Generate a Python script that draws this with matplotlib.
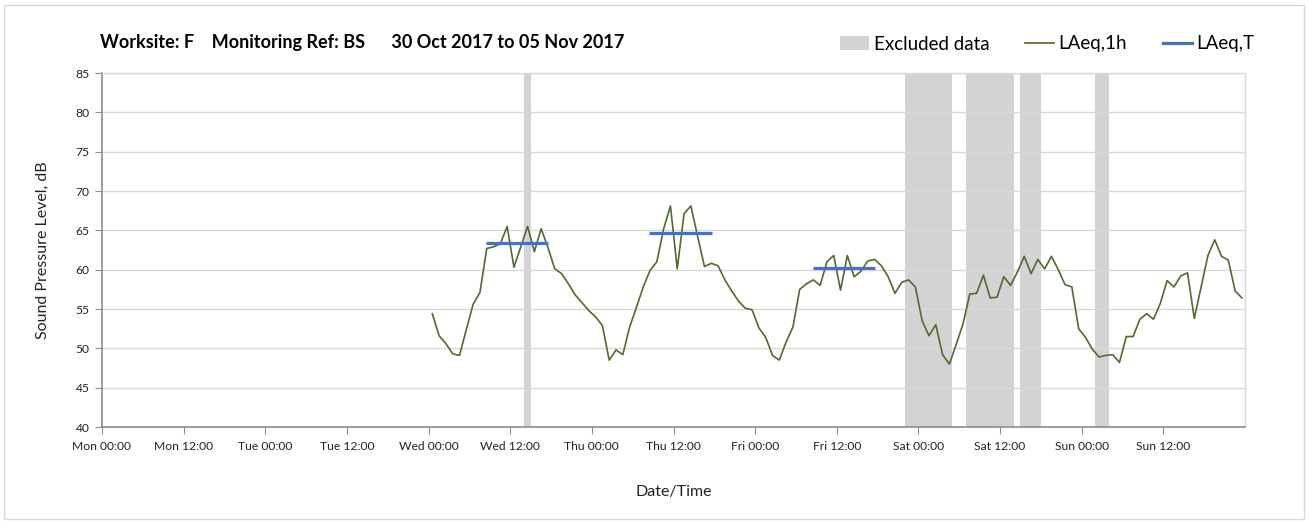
import numpy as np
import matplotlib
matplotlib.use("Agg")
import matplotlib.pyplot as plt
from matplotlib.patches import Rectangle, Patch
from matplotlib.lines import Line2D

plt.rcParams['font.family'] = ['Lato', 'DejaVu Sans']

# hourly LAeq,1h values (dB), Wed 00:35 onwards
wed = [54.4, 51.6, 50.6, 49.3, 49.1, 52.4, 55.6, 57.1, 62.7, 62.9, 63.3, 65.5,
       60.3, 62.9, 65.5, 62.3, 65.2, 62.8, 60.1, 59.5, 58.2, 56.8, 55.8, 54.8]
thu = [54.0, 52.9, 48.5, 49.8, 49.2, 52.7, 55.2, 57.8, 59.9, 61.0, 65.2, 68.1,
       60.1, 67.1, 68.1, 64.2, 60.4, 60.8, 60.5, 58.7, 57.3, 56.0, 55.1, 54.9]
fri = [52.6, 51.4, 49.1, 48.5, 50.8, 52.7, 57.5, 58.2, 58.7, 58.0, 61.0, 61.8,
       57.4, 61.8, 59.1, 59.8, 61.1, 61.3, 60.5, 59.1, 57.0, 58.4, 58.7, 57.8]
sat = [53.5, 51.6, 53.0, 49.2, 48.0, 50.5, 53.1, 56.9, 57.0, 59.3, 56.4, 56.5,
       59.1, 58.0, 59.7, 61.7, 59.5, 61.3, 60.1, 61.7, 60.0, 58.1, 57.8, 52.5]
sun = [51.4, 49.9, 48.9, 49.1, 49.2, 48.2, 51.5, 51.5, 53.7, 54.4, 53.7, 55.7,
       58.6, 57.8, 59.2, 59.6, 53.8, 57.8, 61.8, 63.8, 61.7, 61.2, 57.3, 56.4]
first_hour = 48.55  # Wed 00:35, hours since Mon 00:00

# LAeq,T daytime periods: (start hour, end hour, level)
laeq_t = [(56.45, 65.6, 63.4), (80.45, 89.6, 64.7), (104.45, 113.6, 60.25)]

# excluded data periods (hours since Mon 00:00)
excluded = [(62, 63), (118, 125), (127, 134), (135, 138), (146, 148)]

tick_labels = ["Mon 00:00", "Mon 12:00", "Tue 00:00", "Tue 12:00", "Wed 00:00",
               "Wed 12:00", "Thu 00:00", "Thu 12:00", "Fri 00:00", "Fri 12:00",
               "Sat 00:00", "Sat 12:00", "Sun 00:00", "Sun 12:00"]

levels = wed + thu + fri + sat + sun
hours = first_hour + np.arange(len(levels))

fig = plt.figure(figsize=(13.09, 5.24), dpi=100)
ax = fig.add_axes([102 / 1309, 1 - 427 / 524, 1143 / 1309, 354 / 524])

grid_c = '#d9d9d9'
axis_c = '#8c8c8c'
green = '#4f6b2d'
blue = '#4472c4'
band_c = '#d3d3d3'

for a, b in excluded:
    ax.axvspan(a, b, color=band_c, lw=0, zorder=1)

ax.plot(hours, levels, color=green, lw=1.2, zorder=3)
for a, b, v in laeq_t:
    ax.plot([a, b], [v, v], color=blue, lw=2.3, solid_capstyle='butt', zorder=4)

ax.set_xlim(0, 168)
ax.set_ylim(40, 85)
ax.set_yticks(np.arange(40, 86, 5))
ax.set_xticks(np.arange(0, 168, 12))
ax.set_xticklabels(tick_labels)
ax.set_xticks(np.arange(0, 169, 24), minor=True)
ax.xaxis.grid(True, which='minor', color=grid_c, lw=1)
ax.yaxis.grid(True, which='major', color=grid_c, lw=1)
ax.tick_params(axis='x', which='minor', length=0)
ax.tick_params(axis='x', which='major', length=5, color=axis_c, labelsize=8.7,
               labelcolor='#222222', pad=5)
ax.tick_params(axis='y', length=5, color=axis_c, labelsize=8.7,
               labelcolor='#222222', pad=4)
for s in ['left', 'bottom']:
    ax.spines[s].set_color(axis_c)
    ax.spines[s].set_linewidth(1.2)
for s in ['top', 'right']:
    ax.spines[s].set_color(grid_c)
    ax.spines[s].set_linewidth(1)

ax.set_ylabel("Sound Pressure Level, dB", fontsize=11.5, color='#222222', labelpad=18)
ax.set_xlabel("Date/Time", fontsize=11.5, color='#222222', labelpad=24)

fig.text(100 / 1309, 1 - 43 / 524,
         "Worksite: F    Monitoring Ref: BS      30 Oct 2017 to 05 Nov 2017",
         fontsize=13, fontweight='bold', va='center', ha='left')

handles = [Patch(facecolor=band_c, edgecolor='none', label='Excluded data'),
           Line2D([], [], color=green, lw=1.2, label='LAeq,1h'),
           Line2D([], [], color=blue, lw=2.3, label='LAeq,T')]
fig.legend(handles=handles, loc='center right', bbox_to_anchor=(1264 / 1309, 1 - 44 / 524),
           ncol=3, frameon=False, fontsize=13.5, handlelength=1.55, handletextpad=0.25,
           columnspacing=1.9, handleheight=0.8, borderpad=0)

fig.patches.append(Rectangle((4 / 1309, 5 / 524), 1300 / 1309, 514 / 524,
                             transform=fig.transFigure, fill=False,
                             edgecolor=grid_c, lw=1))

fig.savefig("out.png", dpi=100)
